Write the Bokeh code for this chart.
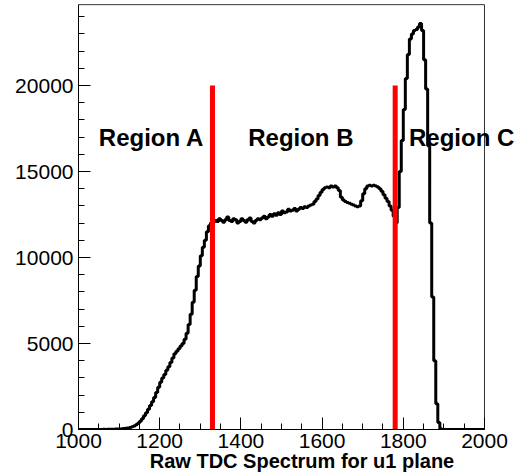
from bokeh.plotting import figure
from bokeh.models import Range1d, FixedTicker, Label
from bokeh.embed import file_html
from bokeh.resources import INLINE
import numpy as np

# Histogram: bins of width 5 starting at 1000
bin_low = 1000
bin_width = 5
counts = [
    0, 0, 0, 0, 0, 0, 0, 0, 0, 5,                                             # 1000
    0, 5, 10, 5, 10, 15, 10, 20, 25, 30,                                      # 1050
    35, 45, 55, 70, 90, 120, 160, 210, 280, 370,                              # 1100
    480, 620, 800, 980, 1180, 1400, 1620, 1860, 2150, 2450,                   # 1150
    2750, 3000, 3200, 3450, 3650, 3900, 4150, 4400, 4550, 4700,               # 1200
    4850, 5000, 5250, 5600, 6100, 6700, 7400, 8100, 8900, 9500,               # 1250
    10100, 10600, 11000, 11500, 11850, 12000, 12050, 12150, 12100, 12250,     # 1300
    12150, 12050, 12200, 12350, 12150, 12100, 12250, 12200, 12000, 12100,     # 1350
    12250, 12150, 12050, 12200, 12300, 12100, 12000, 12150, 12250, 12200,     # 1400
    12300, 12400, 12250, 12350, 12500, 12400, 12550, 12450, 12600, 12500,     # 1450
    12700, 12600, 12650, 12800, 12700, 12750, 12850, 12700, 12800, 12900,     # 1500
    12850, 12950, 12900, 13000, 13050, 13100, 13250, 13400, 13600, 13800,     # 1550
    13950, 14050, 14100, 14050, 14150, 14100, 14150, 14050, 13900, 13500,     # 1600
    13350, 13250, 13200, 13150, 13100, 13050, 13000, 12950, 13000, 13300,     # 1650
    13700, 14000, 14150, 14200, 14150, 14200, 14150, 14100, 14000, 13850,     # 1700
    13650, 13450, 13250, 13000, 12750, 12400, 12000, 12900, 15000, 16800,     # 1750
    18600, 20400, 21800, 22700, 23000, 23200, 23250, 23400, 23600, 23200,     # 1800
    21500, 19800, 16500, 12000, 7700, 4000, 1500, 400, 50, 0,                 # 1850
    0, 0, 0, 0, 0, 0, 0, 0, 0, 0,                                             # 1900
    0, 0, 0, 0, 0, 0, 0, 0, 0, 0,                                             # 1950
]

x_min, x_max = 1000, 2000
y_max = 24700

region_boundaries = [1330, 1780]
boundary_top = 20000
region_names = ["Region A", "Region B", "Region C"]
region_x = [1050, 1418, 1814]
region_y = 17000

x_major = [1000, 1200, 1400, 1600, 1800, 2000]
x_minor = list(range(1000, 2001, 50))
y_major = [0, 5000, 10000, 15000, 20000]
y_minor = list(range(0, 24001, 1000))

x_title = "Raw TDC Spectrum for u1 plane"

FONT = "Liberation Sans"

edges = bin_low + bin_width * np.arange(len(counts) + 1)
step_y = list(counts) + [counts[-1]]

# frame extends to the right edge of the canvas so "Region C" can overhang the box
p = figure(width=525, height=476,
           x_range=Range1d(x_min, 2101), y_range=Range1d(0, 24942),
           output_backend="svg", toolbar_location=None,
           min_border_left=78, min_border_right=0,
           min_border_top=0, min_border_bottom=47)

p.grid.visible = False
p.outline_line_color = None
p.background_fill_color = "white"
p.border_fill_color = "white"

p.step(x=edges, y=step_y, mode="after", line_color="black", line_width=3)

for xb in region_boundaries:
    p.segment(x0=[xb], y0=[0], x1=[xb], y1=[boundary_top],
              line_color="#ff0000", line_width=5)

# box: top and right edges
p.segment(x0=[x_min, x_max], y0=[y_max, 0], x1=[x_max, x_max], y1=[y_max, y_max],
          line_color="#333333", line_width=1)

for name, xr in zip(region_names, region_x):
    p.add_layout(Label(x=xr, y=region_y, text=name, text_font=FONT,
                       text_font_size="24px", text_font_style="bold",
                       text_color="black", text_baseline="alphabetic",
                       text_align="left"))

for ax, major, minor in ((p.xaxis[0], x_major, x_minor), (p.yaxis[0], y_major, y_minor)):
    ax.ticker = FixedTicker(ticks=major, minor_ticks=minor)
    ax.major_tick_in = 12
    ax.major_tick_out = 0
    ax.minor_tick_in = 6
    ax.minor_tick_out = 0
    ax.axis_line_color = "black"
    ax.major_tick_line_color = "black"
    ax.minor_tick_line_color = "black"
    ax.major_label_text_font = FONT
    ax.major_label_text_font_size = "21px"
    ax.major_label_text_color = "black"

p.xaxis.bounds = (x_min, x_max)
p.yaxis.bounds = (0, y_max)
p.xaxis.major_label_standoff = 4
p.yaxis.major_label_standoff = 5
p.xaxis.axis_label = x_title
p.xaxis.axis_label_text_font = FONT
p.xaxis.axis_label_text_font_size = "20px"
p.xaxis.axis_label_text_font_style = "bold"
p.xaxis.axis_label_text_color = "black"
p.xaxis.axis_label_standoff = -1

open("out.html", "w").write(file_html(p, INLINE))
